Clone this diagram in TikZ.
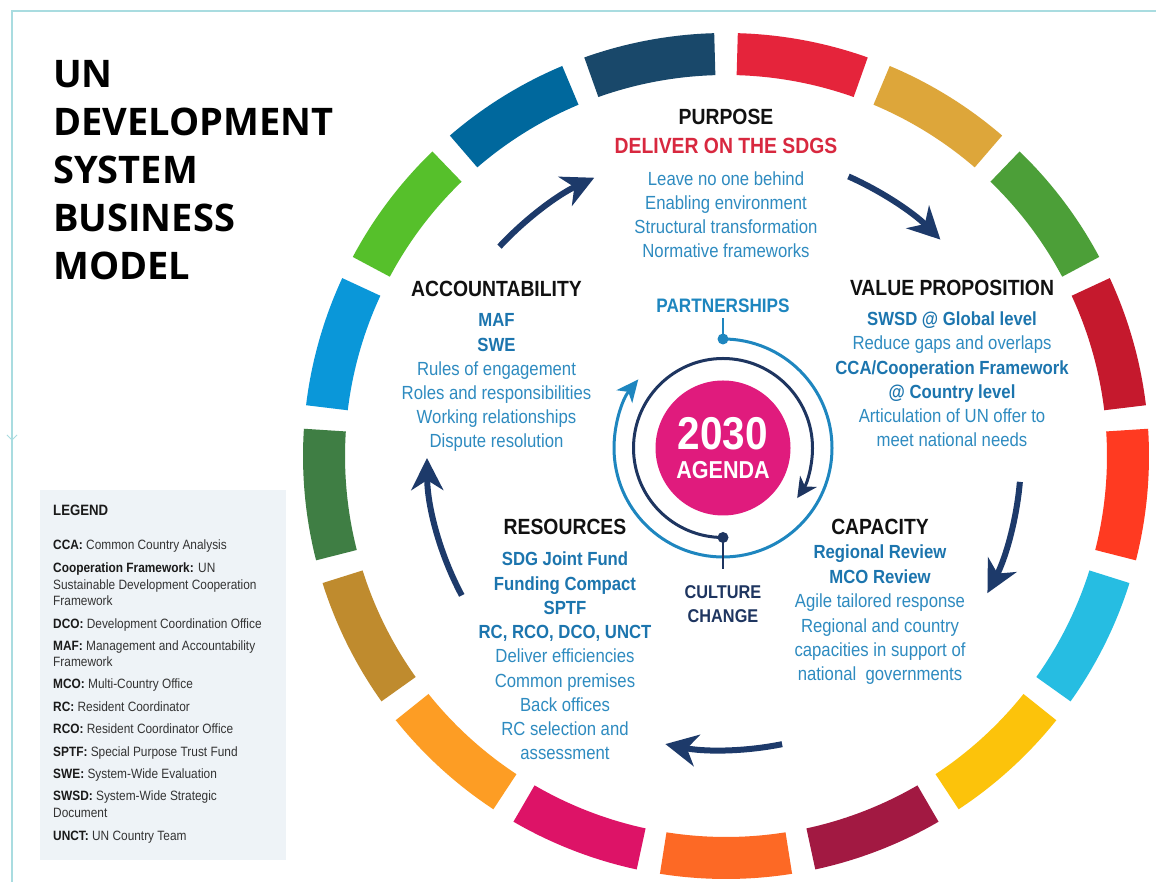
\documentclass[tikz,border=0pt]{standalone}
\usepackage{fontspec}
\setmainfont{Liberation Sans}
\newfontfamily\cond[FakeStretch=0.88]{Liberation Sans}
\newfontfamily\titlef{Open Sans}
\usetikzlibrary{arrows.meta}
\definecolor{sdgA}{HTML}{E5243B}
\definecolor{sdgB}{HTML}{DDA63A}
\definecolor{sdgC}{HTML}{4C9F38}
\definecolor{sdgD}{HTML}{C5192D}
\definecolor{sdgE}{HTML}{FF3A21}
\definecolor{sdgF}{HTML}{26BDE2}
\definecolor{sdgG}{HTML}{FCC30B}
\definecolor{sdgH}{HTML}{A21942}
\definecolor{sdgI}{HTML}{FD6925}
\definecolor{sdgJ}{HTML}{DD1367}
\definecolor{sdgK}{HTML}{FD9D24}
\definecolor{sdgL}{HTML}{BF8B2E}
\definecolor{sdgM}{HTML}{3F7E44}
\definecolor{sdgN}{HTML}{0A97D9}
\definecolor{sdgO}{HTML}{56C02B}
\definecolor{sdgP}{HTML}{00689D}
\definecolor{sdgQ}{HTML}{19486A}
\definecolor{bodyblue}{HTML}{2E8BC0}
\definecolor{boldblue}{HTML}{1C75AE}
\definecolor{sdgred}{HTML}{D8283F}
\definecolor{navyarrow}{HTML}{1D3A6A}
\definecolor{headblack}{HTML}{111111}
\definecolor{culturenavy}{HTML}{1E3560}
\definecolor{partblue}{HTML}{1E86BF}
\definecolor{agendapink}{HTML}{E01B7D}
\definecolor{legfill}{HTML}{EEF3F7}
\definecolor{legtext}{HTML}{333333}
\definecolor{legbold}{HTML}{1A1A1A}
\definecolor{framec}{HTML}{A9DCE0}
\newcommand\bluebold[1]{{\bfseries\color{boldblue}#1}}
\newcommand\lgb[1]{{\bfseries\color{legbold}#1}}
\begin{document}
\begin{tikzpicture}[x=1pt,y=1pt,
  head/.style={font=\cond\bfseries\fontsize{22}{22}\selectfont, text=headblack, inner sep=0pt, anchor=base},
  body/.style={font=\cond\fontsize{19}{19}\selectfont, text=bodyblue, inner sep=0pt, anchor=base},
  legline/.style={font=\cond\fontsize{13.5}{13.5}\selectfont, text=legtext, inner sep=0pt, anchor=base west},
  titlestyle/.style={font=\titlef\bfseries\fontsize{38}{38}\selectfont, text=black, inner sep=0pt, anchor=base west},
  bigarrow/.style={draw=navyarrow, line width=6pt, -{Stealth[length=32pt,width=32pt,inset=10pt]}},
  lbarc/.style={draw=partblue, line width=3pt, -{Stealth[length=22pt,width=20pt,inset=6pt]}},
  darc/.style={draw=culturenavy, line width=3pt, -{Stealth[length=20pt,width=20pt,inset=6pt]}},
]
\useasboundingbox (0,0) rectangle (1156,882);
\fill[white] (0,0) rectangle (1156,882);
% frame
\draw[framec, line width=1.2pt] (12,0) -- (12,871) -- (1156,871);
\draw[framec, line width=1pt] (7,447) -- (12,442) -- (17,447);
% legend box
\fill[legfill] (40,22) rectangle (286,392);
% SDG ring
\begin{scope}[shift={(726,426)}]
\foreach \c [count=\i] in {sdgA,sdgB,sdgC,sdgD,sdgE,sdgF,sdgG,sdgH,sdgI,sdgJ,sdgK,sdgL,sdgM,sdgN,sdgO,sdgP,sdgQ}{
  \pgfmathsetmacro\sa{90-(\i-1)*360/17-1.6}
  \pgfmathsetmacro\sb{90-\i*360/17+1.6}
  \fill[\c] (\sa:423) arc[start angle=\sa, end angle=\sb, radius=423] -- (\sb:381) arc[start angle=\sb, end angle=\sa, radius=381] -- cycle;
}
\end{scope}
% big arrows
\begin{scope}[shift={(724,426)}]
\draw[bigarrow] (137:307) arc[start angle=137, end angle=115, radius=307];
\draw[bigarrow] (66:306) arc[start angle=66, end angle=45, radius=306];
\draw[bigarrow] (-5:297) arc[start angle=-5, end angle=-27.5, radius=297];
\draw[bigarrow] (-78.6:294) arc[start angle=-78.6, end angle=-101.5, radius=294];
\draw[bigarrow] (208:297) arc[start angle=208, end angle=180.4, radius=297];
\end{scope}
% title
\foreach \y/\t [count=\i] in {88/UN, 136/DEVELOPMENT, 184/SYSTEM, 232/BUSINESS, 280/MODEL}
  \node[titlestyle] (title\i) at (53,882-\y) {\t};
% purpose
\node[head] (purpose) at (726,757) {PURPOSE};
\node[head, text=sdgred] (sdgs) at (726,728) {DELIVER ON THE SDGS};
\foreach \t [count=\i] in {Leave no one behind, Enabling environment, Structural transformation, Normative frameworks}
  \node[body] (pur\i) at (726,{882-186-24*(\i-1)}) {\t};
% accountability
\node[head] (acc) at (496.5,585) {ACCOUNTABILITY};
\foreach \t [count=\i] in {\bluebold{MAF}, \bluebold{SWE}, Rules of engagement, Roles and responsibilities, Working relationships, Dispute resolution}
  \node[body] (acc\i) at (496.5,{882-327-24.2*(\i-1)}) {\t};
% value proposition
\node[head] (val) at (952,586) {VALUE PROPOSITION};
\foreach \t [count=\i] in {\bluebold{SWSD @ Global level}, Reduce gaps and overlaps, \bluebold{CCA/Cooperation Framework}, \bluebold{@ Country level}, Articulation of UN offer to, meet national needs}
  \node[body] (val\i) at (952,{882-325.5-24.3*(\i-1)}) {\t};
% resources
\node[head] (res) at (565,347) {RESOURCES};
\foreach \t [count=\i] in {\bluebold{SDG Joint Fund}, \bluebold{Funding Compact}, \bluebold{SPTF}, \bluebold{RC, RCO, DCO, UNCT}, Deliver efficiencies, Common premises, Back offices, RC selection and, assessment}
  \node[body] (res\i) at (565,{882-566-24.25*(\i-1)}) {\t};
% capacity
\node[head] (cap) at (880,347) {CAPACITY};
\foreach \t [count=\i] in {\bluebold{Regional Review}, \bluebold{MCO Review}, Agile tailored response, Regional and country, capacities in support of, national\ \ governments}
  \node[body] (cap\i) at (880,{882-559-24.4*(\i-1)}) {\t};
% center
\node[circle, fill=agendapink, minimum size=135pt, inner sep=0pt] (agenda) at (723,434) {};
\node[font=\cond\bfseries\fontsize{46}{46}\selectfont, text=white, inner sep=0pt, anchor=base, text height=33pt, text depth=0pt] (year) at (723,432) {2030};
\node[font=\cond\bfseries\fontsize{24.5}{24.5}\selectfont, text=white, inner sep=0pt, anchor=base, text height=18pt, text depth=0pt] (agword) at (723,403) {AGENDA};
\coordinate (pdot) at (723,543);
\coordinate (cdot) at (723,344.5);
\draw[lbarc] (pdot) arc[start angle=90, end angle=-219, radius=109];
\draw[darc] (cdot) arc[start angle=-90, end angle=-394, radius=89.5];
\node[head, text=partblue, font=\cond\bfseries\fontsize{19.5}{19.5}\selectfont] (partners) at (723,569) {PARTNERSHIPS};
\node[head, text=culturenavy, font=\cond\bfseries\fontsize{18.5}{18.5}\selectfont] (culture1) at (723,283) {CULTURE};
\node[head, text=culturenavy, font=\cond\bfseries\fontsize{18.5}{18.5}\selectfont] (culture2) at (723,259) {CHANGE};
\draw[partblue, line width=2.5pt] (pdot) -- ([yshift=-5pt]partners.south);
\draw[culturenavy, line width=2.5pt] (cdot) -- ([yshift=17pt]culture1.north);
\fill[partblue] (pdot) circle (5.5);
\fill[culturenavy] (cdot) circle (5.5);
% legend
\node[legline, font=\cond\bfseries\fontsize{15}{15}\selectfont, text=legbold] (legtitle) at (53,366) {LEGEND};
\foreach \y/\t [count=\i] in {550/{\lgb{CCA:} Common Country Analysis}, 573/{\lgb{Cooperation Framework:} UN}, 590/{Sustainable Development Cooperation}, 606/{Framework}, 629/{\lgb{DCO:} Development Coordination Office}, 651/{\lgb{MAF:} Management and Accountability}, 667/{Framework}, 689/{\lgb{MCO:} Multi-Country Office}, 712/{\lgb{RC:} Resident Coordinator}, 734/{\lgb{RCO:} Resident Coordinator Office}, 757/{\lgb{SPTF:} Special Purpose Trust Fund}, 779/{\lgb{SWE:} System-Wide Evaluation}, 801/{\lgb{SWSD:} System-Wide Strategic}, 818/{Document}, 841/{\lgb{UNCT:} UN Country Team}}
  \node[legline] (leg\i) at (53,882-\y) {\t};
\end{tikzpicture}
\end{document}
